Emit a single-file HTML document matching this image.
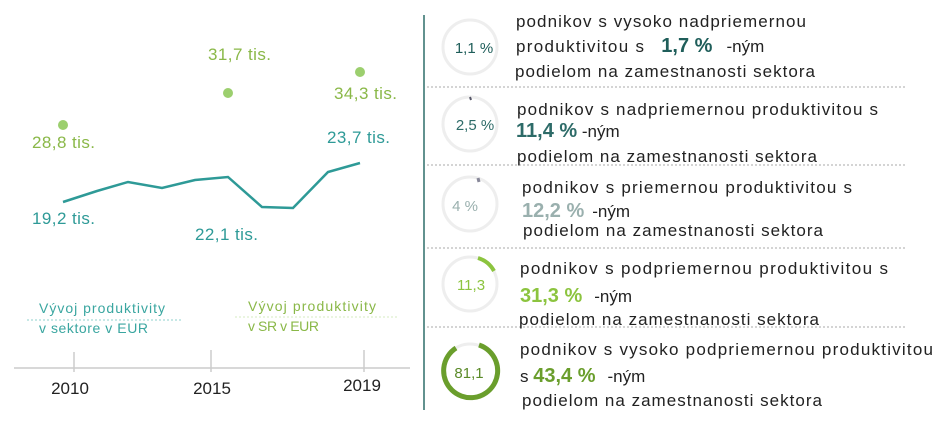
<!DOCTYPE html>
<html><head><meta charset="utf-8"><style>
body{margin:0;width:943px;height:417px;background:#fff;overflow:hidden;font-family:"Liberation Sans",sans-serif}
svg text{font-family:"Liberation Sans",sans-serif}
</style></head><body>
<svg width="943" height="417" viewBox="0 0 943 417" xmlns="http://www.w3.org/2000/svg">
<polyline points="63,202 97,191 128,182 162,188 195,180 228,177 262,207 293,208 328,172 360,163" fill="none" stroke="#2e9a97" stroke-width="2.5"/>
<g fill="#9ccf6e"><circle cx="63" cy="125" r="5"/><circle cx="228" cy="93" r="5"/><circle cx="360" cy="72" r="5"/></g>
<g font-size="17" fill="#8ab848">
<text x="32" y="148" textLength="63">28,8 tis.</text><text x="208" y="60" textLength="63">31,7 tis.</text><text x="334" y="99" textLength="63">34,3 tis.</text></g>
<g font-size="17" fill="#2e9a97">
<text x="327" y="143" textLength="63">23,7 tis.</text><text x="32" y="224" textLength="63">19,2 tis.</text><text x="195" y="240" textLength="63">22,1 tis.</text></g>
<g font-size="14"><text x="39" y="313" fill="#3aa6a0" textLength="126">Vývoj produktivity</text><text x="39" y="333" fill="#3aa6a0" textLength="109">v sektore v EUR</text>
<text x="248" y="311" fill="#8ab848" textLength="128">Vývoj produktivity</text><text x="248" y="331" fill="#8ab848" textLength="71">v SR v EUR</text></g>
<line x1="27" y1="320" x2="182" y2="320" stroke="#8fd0cc" stroke-dasharray="2,2"/>
<line x1="235" y1="317" x2="397" y2="317" stroke="#d6ebc0" stroke-dasharray="2,2"/>
<line x1="14" y1="368" x2="410" y2="368" stroke="#ccc" stroke-width="1.5"/>
<g stroke="#ccc" stroke-width="1.5"><line x1="74" y1="352" x2="74" y2="372"/><line x1="211" y1="350" x2="211" y2="372"/><line x1="364" y1="350" x2="364" y2="372"/></g>
<g font-size="17" fill="#222" text-anchor="middle"><text x="70" y="394">2010</text><text x="212" y="394">2015</text><text x="362" y="391">2019</text></g>

<line x1="424" y1="15" x2="424" y2="410" stroke="#2e6e6a" stroke-width="1.5"/>
<g stroke="#aaa" stroke-dasharray="2,2"><line x1="427" y1="87" x2="905" y2="87"/><line x1="427" y1="165" x2="905" y2="165"/><line x1="427" y1="248" x2="905" y2="248"/><line x1="427" y1="327" x2="905" y2="327"/></g>
<g fill="none" stroke="#eee" stroke-width="3">
<circle cx="470" cy="47" r="27"/><circle cx="470" cy="124" r="27"/><circle cx="470" cy="204" r="27"/><circle cx="470" cy="284" r="27"/><circle cx="470" cy="371" r="27"/></g>
<path d="M470,97 L471,100" stroke="#556" stroke-width="2"/>
<path d="M478,178 L479,182" stroke="#889" stroke-width="3"/>
<path d="M478,258 A27,27 0 0 1 494,271" fill="none" stroke="#8cc43f" stroke-width="4"/>
<path d="M479,345 A27,27 0 1 1 456,348" fill="none" stroke="#6a9e2c" stroke-width="5"/>
<g font-size="15" text-anchor="middle">
<text x="474" y="53" fill="#1f5e5a">1,1 %</text><text x="475" y="130" fill="#2d6b68">2,5 %</text><text x="465" y="211" fill="#9ab0ae">4 %</text><text x="471" y="290" fill="#8cc43f">11,3</text><text x="469" y="378" fill="#5a8a28">81,1</text></g>
<g font-size="17" fill="#222">
<text x="516" y="27" textLength="290">podnikov s vysoko nadpriemernou</text>
<text x="516" y="52"><tspan textLength="128">produktivitou s</tspan><tspan font-size="20" font-weight="bold" fill="#1f5e5a" dx="16">1,7 %</tspan><tspan dx="14">-ným</tspan></text>
<text x="515" y="77" textLength="300">podielom na zamestnanosti sektora</text>
<text x="517" y="115" textLength="361">podnikov s nadpriemernou produktivitou s</text>
<text x="516" y="137"><tspan font-size="20" font-weight="bold" fill="#2d6b68">11,4 %</tspan> -ným</text>
<text x="517" y="162" textLength="300">podielom na zamestnanosti sektora</text>
<text x="522" y="193" textLength="330">podnikov s priemernou  produktivitou s</text>
<text x="522" y="217"><tspan font-size="20" font-weight="bold" fill="#9ab0ae">12,2 %</tspan><tspan dx="8">-ným</tspan></text>
<text x="523" y="236" textLength="300">podielom na zamestnanosti sektora</text>
<text x="520" y="274" textLength="368">podnikov s  podpriemernou  produktivitou s</text>
<text x="520" y="302"><tspan font-size="20" font-weight="bold" fill="#8cc43f">31,3 %</tspan><tspan dx="12">-ným</tspan></text>
<text x="519" y="325" textLength="300">podielom na zamestnanosti sektora</text>
<text x="520" y="355" textLength="413">podnikov s vysoko podpriemernou produktivitou</text>
<text x="520" y="382">s <tspan font-size="20" font-weight="bold" fill="#6a9e2c">43,4 %</tspan><tspan dx="12">-ným</tspan></text>
<text x="522" y="406" textLength="300">podielom na zamestnanosti sektora</text>
</g>
</svg>
</body></html>
